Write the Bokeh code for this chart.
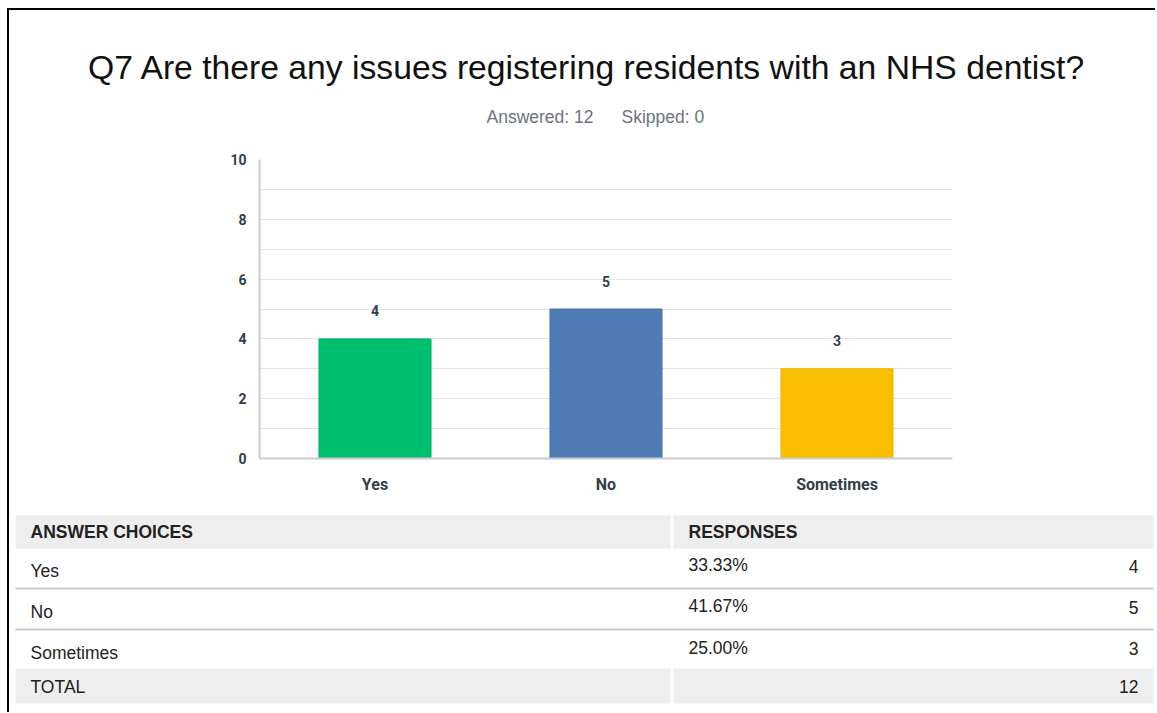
from bokeh.plotting import figure
from bokeh.models import ColumnDataSource, Range1d, FactorRange, FixedTicker, Div
from bokeh.layouts import column, row
from bokeh.embed import file_html
from bokeh.resources import INLINE
from bokeh.core.properties import value

# ---------------- data ----------------
title_text = "Q7 Are there any issues registering residents with an NHS dentist?"
answered_text = "Answered: 12"
skipped_text = "Skipped: 0"
categories = ["Yes", "No", "Sometimes"]
counts = [4, 5, 3]
bar_colors = ["#00BF6F", "#507CB6", "#F9BE00"]
bar_edges = ["#00B066", "#4470AA", "#EDB400"]
percent_labels = ["33.33%", "41.67%", "25.00%"]
total_label = "TOTAL"
total_count = "12"
header_labels = ["ANSWER CHOICES", "RESPONSES"]
y_ticks = [0, 2, 4, 6, 8, 10]
grid_ticks = [1, 2, 3, 4, 5, 6, 7, 8, 9]

W = 1146
FONT = "Liberation Sans"
BFONT = "Roboto"


def blank(h):
    f = figure(width=W, height=h, x_range=Range1d(0, W), y_range=Range1d(h, 0),
               x_axis_type=None, y_axis_type=None, toolbar_location=None,
               output_backend="svg", min_border=0, outline_line_color=None,
               frame_align=False)
    return f


# ---------------- header (title + subtitle) ----------------
top = blank(138)
top.text(x=[577.5], y=[56], text=[title_text], text_font=value(FONT),
         text_font_size="33.7px", text_align="center", text_baseline="middle",
         text_color="#111111")
top.text(x=[477, 612], y=[106, 106], text=[answered_text, skipped_text],
         text_font=value(FONT), text_font_size="17.5px", text_align="left",
         text_baseline="middle", text_color="#6b7480")

# ---------------- bar chart ----------------
src = ColumnDataSource(dict(cat=categories, count=counts,
                            label=[str(c) for c in counts],
                            color=bar_colors, edge=bar_edges))

p = figure(width=W, height=352, x_range=FactorRange(*categories),
           y_range=Range1d(0, 10), toolbar_location=None, output_backend="svg",
           min_border_left=250, min_border_right=W - 943, min_border_top=11,
           min_border_bottom=42, outline_line_color=None, frame_align=False)

p.vbar(x="cat", top="count", width=0.485, source=src,
       fill_color="color", line_color="edge", line_width=1)
p.text(x="cat", y="count", text="label", source=src, y_offset=-28,
       text_align="center", text_baseline="middle", text_font=value(BFONT),
       text_font_style="bold", text_font_size="14px", text_color="#333e48")

p.xgrid.visible = False
p.ygrid.ticker = FixedTicker(ticks=grid_ticks)
p.ygrid.grid_line_color = "#e4e4e4"
p.ygrid.grid_line_width = 1

p.yaxis.ticker = FixedTicker(ticks=y_ticks)
for ax in (p.xaxis, p.yaxis):
    ax.axis_line_color = "#cccccc"
    ax.axis_line_width = 2
    ax.major_tick_line_color = None
    ax.minor_tick_line_color = None
    ax.major_tick_out = 0
    ax.major_tick_in = 0
    ax.major_label_text_font = BFONT
    ax.major_label_text_font_style = "bold"
    ax.major_label_text_color = "#333e48"
p.yaxis.major_label_text_font_size = "14px"
p.yaxis.major_label_standoff = 13
p.xaxis.major_label_text_font_size = "16px"
p.xaxis.major_label_standoff = 16

# ---------------- table ----------------
tbl = blank(205)
R = 1144
tbl.quad(left=[6, 664, 6, 664], right=[661, R, 661, R],
         top=[15, 15, 168, 168], bottom=[48, 48, 203, 203],
         fill_color="#eeeeee", line_color=None)
tbl.segment(x0=[6, 6], y0=[88, 129], x1=[R, R], y1=[88, 129],
            line_color="#c8c8c8", line_width=2)

tbl.text(x=[21, 679], y=[31, 31], text=header_labels, text_font=value(FONT),
         text_font_style="bold", text_font_size="17.5px", text_align="left",
         text_baseline="middle", text_color="#222222")
tbl.text(x=[21, 21, 21, 21], y=[70, 111, 152, 186],
         text=categories + [total_label], text_font=value(FONT),
         text_font_size="17.5px", text_align="left", text_baseline="middle",
         text_color="#222222")
tbl.text(x=[679, 679, 679], y=[64, 105, 147], text=percent_labels,
         text_font=value(FONT), text_font_size="17.5px", text_align="left",
         text_baseline="middle", text_color="#222222")
tbl.text(x=[1129, 1129, 1129, 1129], y=[66, 107, 148, 186],
         text=[str(c) for c in counts] + [total_count], text_font=value(FONT),
         text_font_size="17.5px", text_align="right", text_baseline="middle",
         text_color="#222222")

# ---------------- page frame ----------------
top_bar = Div(width=W + 2, height=2, margin=(0, 0, 0, 0),
              styles={"background-color": "black"})
left_bar = Div(width=2, height=702, margin=(0, 0, 0, 0),
               styles={"background-color": "black"})

layout = column(top_bar, row(left_bar, column(top, p, tbl)),
                margin=(8, 0, 0, 7))

open("out.html", "w").write(file_html(layout, INLINE))
